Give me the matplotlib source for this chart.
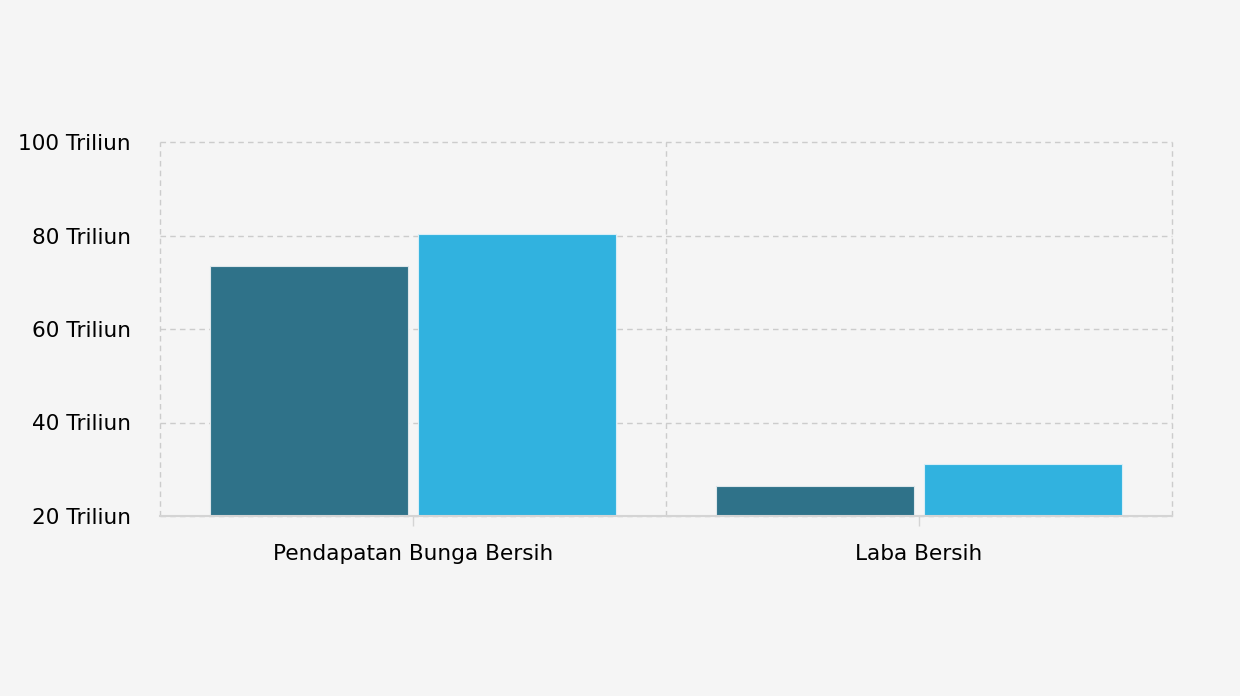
import numpy as np
import matplotlib.pyplot as plt
from matplotlib.ticker import FixedLocator

categories = ["Pendapatan Bunga Bersih", "Laba Bersih"]
series_a = [73.5, 26.4]   # dark teal
series_b = [80.3, 31.1]   # light blue
y_ticks = [20, 40, 60, 80, 100]
y_labels = [f"{v} Triliun" for v in y_ticks]

bg = "#f5f5f5"
dark = "#2f7289"
light = "#31b2df"
grid_col = "#cccccc"

fig = plt.figure(figsize=(12.4, 6.96), dpi=100, facecolor=bg)
ax = fig.add_axes([160 / 1240, 180 / 696, 1012 / 1240, 374 / 696])
ax.set_facecolor(bg)

x = np.arange(len(categories)) + 0.5
off = 0.2055
w = 0.391
ax.bar(x - off, np.array(series_a) - 20, w, bottom=20, color=dark,
       edgecolor="#dde6ea", linewidth=0.8, zorder=3)
ax.bar(x + off, np.array(series_b) - 20, w, bottom=20, color=light,
       edgecolor="#d8eef6", linewidth=0.8, zorder=3)

ax.set_xlim(0, len(categories))
ax.set_ylim(20, 100)
ax.set_yticks(y_ticks)
ax.set_yticklabels(y_labels)
ax.set_xticks(x)
ax.set_xticklabels(categories)
ax.xaxis.set_minor_locator(FixedLocator(np.arange(len(categories) + 1)))

ax.grid(axis="y", which="major", color=grid_col, linestyle=(0, (4, 3)), linewidth=1, zorder=0)
ax.grid(axis="x", which="minor", color=grid_col, linestyle=(0, (4, 3)), linewidth=1, zorder=0)
for t in ax.xaxis.get_minor_ticks() + ax.yaxis.get_major_ticks():
    t.gridline.set_clip_on(False)

for s in ["top", "left", "right"]:
    ax.spines[s].set_visible(False)
ax.spines["bottom"].set_color("#d4d4d4")
ax.spines["bottom"].set_linewidth(1.5)
ax.spines["bottom"].set_zorder(4)

ax.tick_params(axis="y", length=0, pad=21, labelsize=15.6, labelcolor="black")
ax.tick_params(axis="x", which="major", length=7, width=1, color="#d4d4d4",
               pad=13, labelsize=15.6, labelcolor="black")
ax.tick_params(axis="x", which="minor", length=0)
for lbl in ax.get_yticklabels():
    lbl.set_y(lbl.get_position()[1])
    lbl.set_va("center_baseline")

fig.savefig("out.png", dpi=100, facecolor=bg)
